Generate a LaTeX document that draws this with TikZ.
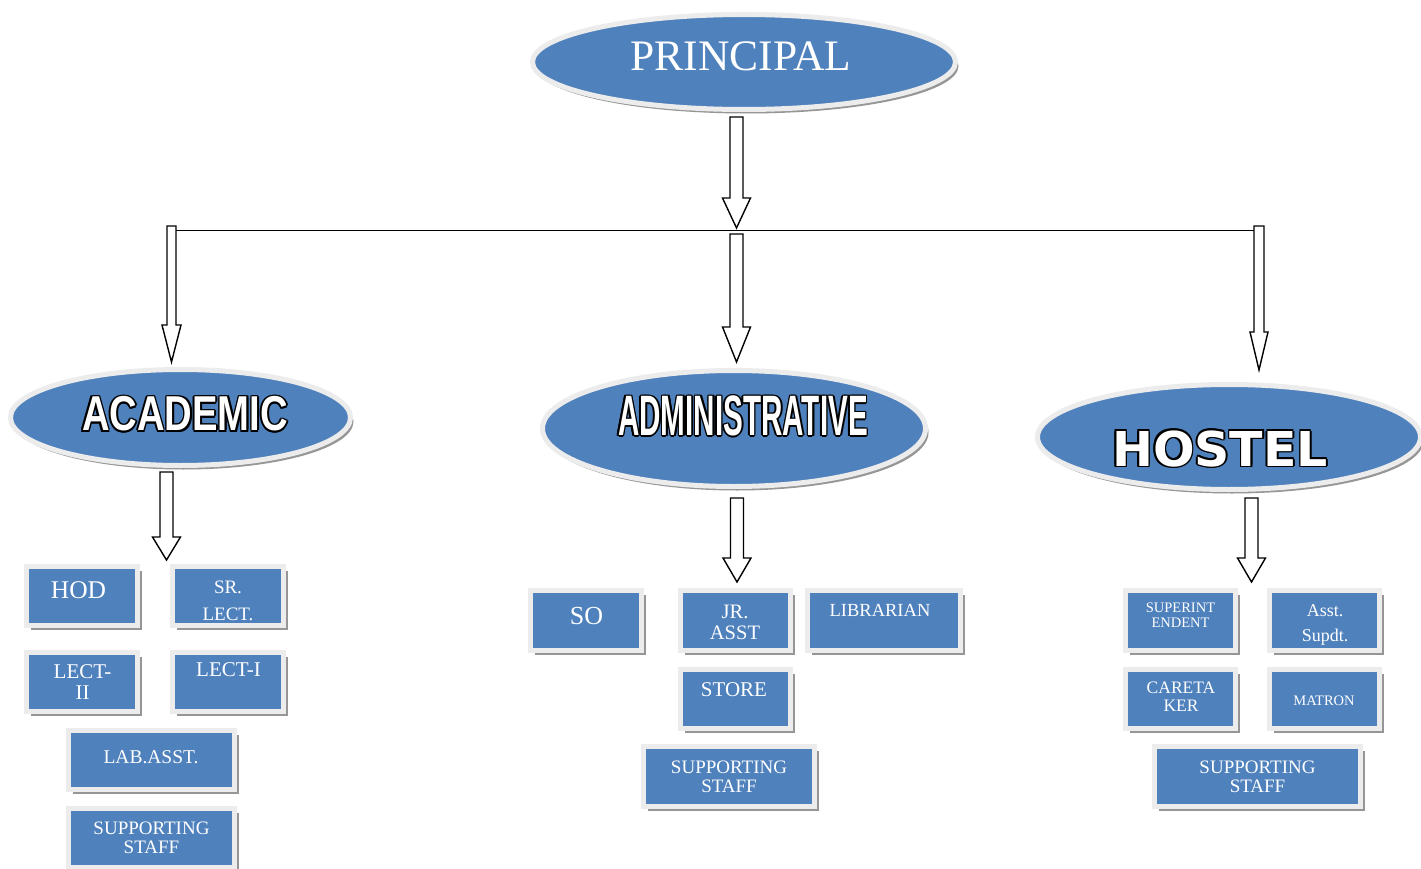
\documentclass[tikz,border=0pt]{standalone}
\usepackage{fontspec}
\setmainfont{Liberation Serif}
\newfontfamily\lsans{Liberation Sans}
\newfontfamily\dvsans{DejaVu Sans}
\usetikzlibrary{shapes.geometric,shadows,calc}
\definecolor{boxblue}{RGB}{79,129,189}
\definecolor{rimgray}{RGB}{236,236,236}
\definecolor{shadgray}{RGB}{150,150,150}
\newcommand\outl[1]{\leavevmode
 \rlap{\kern-1.7pt\textcolor{black}{#1}}%
 \rlap{\kern1.7pt\textcolor{black}{#1}}%
 \rlap{\raisebox{1.7pt}{\textcolor{black}{#1}}}%
 \rlap{\raisebox{-1.7pt}{\textcolor{black}{#1}}}%
 \rlap{\kern1.2pt\raisebox{1.2pt}{\textcolor{black}{#1}}}%
 \rlap{\kern-1.2pt\raisebox{1.2pt}{\textcolor{black}{#1}}}%
 \rlap{\kern1.2pt\raisebox{-1.2pt}{\textcolor{black}{#1}}}%
 \rlap{\kern-1.2pt\raisebox{-1.2pt}{\textcolor{black}{#1}}}%
 \textcolor{white}{#1}}
\newcommand\blockarrow[5]{%
 \draw[barrow] let \p1=(#1), \p2=(#2) in
 (\x1-#3,\y1) -- (\x1+#3,\y1) -- (\x1+#3,\y2+#5) -- (\x1+#4,\y2+#5) --
 (\x1,\y2) -- (\x1-#4,\y2+#5) -- (\x1-#3,\y2+#5) -- cycle;}
\tikzset{
 bx/.style={rectangle, fill=boxblue, draw=rimgray, line width=5pt, inner sep=0pt,
   drop shadow={shadow xshift=4.5pt, shadow yshift=-4.5pt, fill=shadgray, opacity=1}},
 ell/.style={ellipse, fill=boxblue, draw=rimgray, line width=5pt, inner sep=0pt,
   drop shadow={shadow xshift=3pt, shadow yshift=-4pt, fill=shadgray, opacity=1}},
 bt/.style={text=white, inner sep=0pt, align=center, text depth=0pt},
 barrow/.style={draw=black, fill=white, line width=1.4pt, line join=miter},
 hline/.style={draw=black, line width=1.2pt},
}
\begin{document}
\begin{tikzpicture}[x=1pt,y=-1pt]
\useasboundingbox[fill=white] (0,0) rectangle (1421,869);

% ellipses
\node[ell, minimum width=423pt, minimum height=95pt] (prin) at (744,62) {};
\node[bt, font=\fontsize{43.5}{50}\selectfont] (print) at (741,56.5) {PRINCIPAL};

\node[ell, minimum width=340pt, minimum height=96pt] (acad) at (180.5,417.5) {};
\node[bt, font=\lsans\bfseries\fontsize{49}{55}\selectfont] (acadt) at (185,413) {\outl{\scalebox{0.78}[1]{ACADEMIC}}};

\node[ell, minimum width=383pt, minimum height=116pt] (admin) at (734,428.5) {};
\node[bt, font=\lsans\bfseries\fontsize{57}{62}\selectfont] (admint) at (743,415) {\outl{\scalebox{0.52}[1]{ADMINISTRATIVE}}};

\node[ell, minimum width=383pt, minimum height=105pt] (host) at (1229,437) {};
\node[bt, font=\dvsans\bfseries\fontsize{48}{54}\selectfont] (hostt) at (1220,447.5) {\outl{\scalebox{1.02}[1]{HOSTEL}}};

% connectors
\coordinate (p0s) at (736.5,117); \coordinate (p0e) at (736.5,228);
\coordinate (hl) at (176,230.5); \coordinate (hr) at (1254,230.5);
\coordinate (aLs) at (171.5,226); \coordinate (aLe) at (171.5,362);
\coordinate (aMs) at (736.5,234); \coordinate (aMe) at (736.5,362);
\coordinate (aRs) at (1259,226); \coordinate (aRe) at (1259,370);
\coordinate (aAs) at (166.5,472); \coordinate (aAe) at (166.5,560);
\coordinate (aDs) at (737,498); \coordinate (aDe) at (737,582);
\coordinate (aHs) at (1251.5,498); \coordinate (aHe) at (1251.5,582);

\draw[hline] (hl) -- (hr);
\blockarrow{p0s}{p0e}{6.5pt}{14pt}{30pt}
\blockarrow{aLs}{aLe}{4.5pt}{9.5pt}{37pt}
\blockarrow{aMs}{aMe}{6.5pt}{14pt}{35pt}
\blockarrow{aRs}{aRe}{5pt}{9pt}{38pt}
\blockarrow{aAs}{aAe}{6.5pt}{14pt}{23pt}
\blockarrow{aDs}{aDe}{6.5pt}{14pt}{24pt}
\blockarrow{aHs}{aHe}{6.5pt}{14pt}{24pt}

% academic boxes
\node[bx, minimum width=111pt, minimum height=59pt] (hod) at (82,596) {};
\node[bt, font=\fontsize{25.5}{30}\selectfont] (hodt) at (78.5,590.5) {HOD};
\node[bx, minimum width=111pt, minimum height=59pt] (srl) at (228,596) {};
\begin{scope}
\clip (175,569) rectangle (281,620);
\node[bt, font=\fontsize{19}{27}\selectfont] (srlt) at (228,600.5) {SR.\\LECT.};
\end{scope}
\node[bx, minimum width=111pt, minimum height=59pt] (l2) at (82,682) {};
\node[bt, font=\fontsize{21}{21}\selectfont] (l2t) at (82.5,682) {LECT-\\II};
\node[bx, minimum width=111pt, minimum height=59pt] (l1) at (228,682) {};
\node[bt, font=\fontsize{21}{30}\selectfont] (l1t) at (228.5,670) {LECT-I};
\node[bx, minimum width=166pt, minimum height=59pt] (lab) at (151.5,760) {};
\node[bt, font=\fontsize{19.5}{24}\selectfont] (labt) at (151,757) {LAB.ASST.};
\node[bx, minimum width=166pt, minimum height=59pt] (sup1) at (151.5,838) {};
\node[bt, font=\fontsize{19}{19}\selectfont] (sup1t) at (151.5,837.5) {SUPPORTING\\STAFF};

% administrative boxes
\node[bx, minimum width=111pt, minimum height=60pt] (so) at (586,620.5) {};
\node[bt, font=\fontsize{26}{30}\selectfont] (sot) at (586.5,615.5) {SO};
\node[bx, minimum width=110pt, minimum height=60pt] (jr) at (735.5,620.5) {};
\node[bt, font=\fontsize{20.5}{20.5}\selectfont] (jrt) at (735,622.5) {JR.\\ASST};
\node[bx, minimum width=153pt, minimum height=60pt] (lib) at (884,620.5) {};
\node[bt, font=\fontsize{18.5}{22}\selectfont] (libt) at (880,610.5) {LIBRARIAN};
\node[bx, minimum width=110pt, minimum height=59pt] (store) at (735.5,699) {};
\node[bt, font=\fontsize{21}{25}\selectfont] (storet) at (734,690) {STORE};
\node[bx, minimum width=171pt, minimum height=60pt] (sup2) at (729,776.5) {};
\node[bt, font=\fontsize{19}{19}\selectfont] (sup2t) at (729,777) {SUPPORTING\\STAFF};

% hostel boxes
\node[bx, minimum width=110pt, minimum height=60pt] (supt) at (1180.5,620.5) {};
\node[bt, font=\fontsize{14.5}{15}\selectfont] (suptt) at (1180.5,615.5) {SUPERINT\\ENDENT};
\node[bx, minimum width=110pt, minimum height=60pt] (asst) at (1324.5,620.5) {};
\node[bt, font=\fontsize{18}{25}\selectfont] (asstt) at (1325,623) {Asst.\\Supdt.};
\node[bx, minimum width=110pt, minimum height=59pt] (care) at (1180.5,699) {};
\node[bt, font=\fontsize{17.5}{18}\selectfont] (caret) at (1181,697) {CARETA\\KER};
\node[bx, minimum width=110pt, minimum height=59pt] (mat) at (1324.5,699) {};
\node[bt, font=\fontsize{14.5}{18}\selectfont] (matt) at (1324,701) {MATRON};
\node[bx, minimum width=206pt, minimum height=60pt] (sup3) at (1257.5,776.5) {};
\node[bt, font=\fontsize{19}{19}\selectfont] (sup3t) at (1257.5,777) {SUPPORTING\\STAFF};
\end{tikzpicture}
\end{document}
